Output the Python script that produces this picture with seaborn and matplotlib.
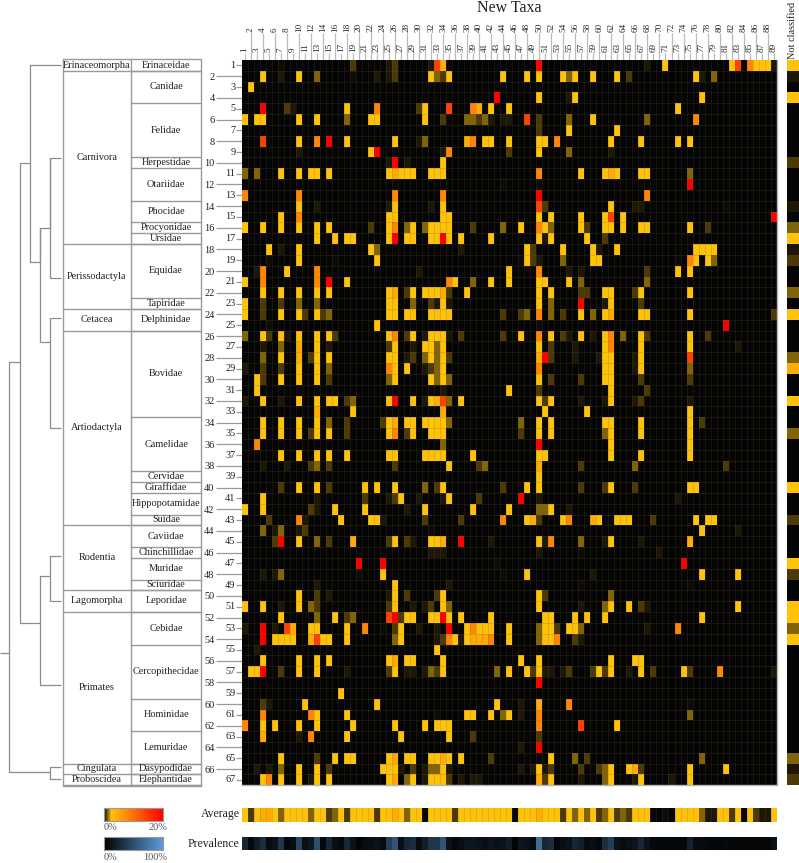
import numpy as np, matplotlib
matplotlib.use("Agg")
import matplotlib.pyplot as plt
import seaborn as sns
from matplotlib.colors import LinearSegmentedColormap as LSC

sns.set_theme(style="white")
plt.rcParams['font.family'] = ['Liberation Serif', 'DejaVu Serif']

# colour level -> percent
LEVELS = {'K':0,'n':0.12,'d':0.3,'m':0.75,'o':1.25,'y':2.5,'e':4.5,'a':8.0,'f':14.0,'r':20.0}

families = ["Erinaceidae","Canidae","Felidae","Herpestidae","Otariidae","Phocidae","Procyonidae","Ursidae","Equidae","Tapiridae","Delphinidae","Bovidae","Camelidae","Cervidae","Giraffidae","Hippopotamidae","Suidae","Caviidae","Chinchillidae","Muridae","Sciuridae","Leporidae","Cebidae","Cercopithecidae","Hominidae","Lemuridae","Dasypodidae","Elephantidae"]
family_sizes = [1,3,5,1,3,2,1,1,5,1,2,8,5,1,1,2,1,2,1,2,1,2,3,5,3,3,1,1]
orders = ["Erinaceomorpha","Carnivora","Perissodactyla","Cetacea","Artiodactyla","Rodentia","Lagomorpha","Primates","Cingulata","Proboscidea"]
order_sizes = [1,16,6,2,18,6,2,14,1,1]

# one string per host row: "<column><level>"
rows = [
"7n 19m 25d 26m 32d 33f 34e 50r 68d 71y 82y 83f 85a 86y 87y 88y 89d",
"4y 7d 10y 13o 19n 23d 25d 26m 32y 33o 34m 35y 44y 48y 50y 54y 55o 56y 59y 63y 65m 76y 77d 79o",
"2y",
"43r 50y 55d 56y 77y",
"4r 8m 9d 18y 23a 30m 31y 35f 39a 40e 42y 45y 73y",
"1y 3y 4y 10y 13y 18o 22y 23y 31y 34m 38o 39o 40m 41o 42d 44d 45d 48f 50m 55o 59y 68o 76a",
"50m 55y 63y",
"4f 10y 13a 15r 18y 26y 30d 31o 38e 39a 41y 42y 45y 50y 51y 53a 62y 67y 73y 75y",
"10d 22y 23r 34d 35a 45m 50y 55o 62d",
"25d 26r 28d 34y",
"1o 3o 7y 10y 12y 13y 15y 25y 26e 27y 28y 29y 32y 33y 34y 50a 57y 61y 62e 63y 67y 68y 75o",
"26n 44n 50n 75r",
"1a 10a 26a 34a 50r 68a",
"10y 13d 25d 26y 32d 34y 50f 51m 62y 66d 67d 81n",
"7y 10a 25y 26y 34y 35y 50y 52y 57y 61y 62f 64y 89r",
"1y 4y 7y 10y 13y 15y 22m 25y 26a 28o 29y 31o 32y 33y 34y 35y 39m 44o 47y 50a 51y 52o 57y 58m 61y 62y 64y 67y 68y 75y 78m",
"13y 16y 18y 19y 25y 26r 28y 29y 32y 33y 34r 35y 37y 42y 50y 51d 52y 58y 61m",
"5y 7d 10y 22y 23o 37d 48y 49m 54y 59y 60d 63y 76y 77y 78y 79y",
"5n 10y 16n 23y 47n 48y 49m 50d 54o 59y 60y 73n 75a 76y 78y 79o",
"3d 4a 8y 13a 30d 45y 50a 55d 57d 68m 73y 75y",
"1y 4a 13a 15r 18y 35a 36y 39o 42y 45y 50y 51y 55y 57o 68o",
"4y 7y 10y 13y 15y 25y 26e 28m 29y 31y 32y 33y 34e 35m 38y 50y 52y 57m 58m 61y 62y 66m 67y 75y",
"1y 4m 7m 10o 13o 25y 26y 29o 32m 33d 34y 35d 50y 52o 57r 61d 62y 67m",
"1y 4m 7y 10y 11m 13y 14m 15o 25y 26y 28y 29y 32y 33y 34y 35y 44m 47m 48o 50a 52o 54m 57y 59o 61y 62e 67y 68y 75y 89m",
"5n 23y 50n 81r",
"1o 4y 5m 7y 8d 10y 13y 15y 16m 25y 26a 28m 29y 31d 32y 33y 34y 35d 37m 44m 47y 50a 51n 52y 54m 55d 57y 59d 61y 62a 64o 67y 68m 75y 78m",
"4d 7o 10e 13y 15d 25m 26y 29d 31y 32y 33o 34y 50y 52m 56d 61y 62a 67y 75y 83d",
"4o 7y 10e 12m 13y 15y 25y 26y 28d 29m 31o 32y 33o 34y 35m 50e 51r 52m 56d 60d 61y 62y 66d 67y 75f",
"1d 4m 7m 10y 13y 15o 25a 26y 28y 31d 32m 33o 34y 50a 61y 62y 66d 67y 75o",
"3y 4m 7y 10y 13y 15m 25o 26y 32y 33o 34y 35o 50y 52m 57m 61y 62y 67m 75m",
"3y 34d 45y 50m 62y 68m",
"1d 4y 7d 10y 13y 15y 16y 18m 19o 25y 26r 29y 31d 32y 33e 34f 35o 37y 50y 51m 52y 57d 61d 62y 66d 67m 75d",
"13e 19y 34e 51y 58y 75y",
"4y 7y 10y 13y 15o 18m 24m 25y 26e 28y 29y 31y 32y 33y 34y 35o 47o 50y 52y 61y 62y 67y 75y 77m",
"4y 7y 10y 12m 13y 15y 18m 25y 26a 28m 29y 32y 33y 34y 47m 50y 52y 61o 62y 67y 75y",
"3a 34o 50r 62y 75y",
"7y 10y 13y 15y 18y 25y 26y 31y 32y 33y 34y 39y 50y 51y 62y 67y 75y",
"4d 8d 12m 13o 15m 26m 35y 40m 41o 50e 57m 66o 81m",
"50y",
"7m 10y 13y 15m 21y 23y 26y 31o 33m 34y 44m 48y 50y 57m 61m 62y 66m 75y 76y",
"4y 13d 21m 25d 26m 27y 30d 34d 35y 40m 47r 50d 73d",
"1y 4y 12m 13d 16y 21y 28d 31y 39y 45y 50o 51o 52y 55d",
"5m 10a 11d 17y 22y 23y 24d 31m 37m 44a 48y 49e 50m 54y 55a 59e 60y 63y 64y 65y 69m 76y 78y 79y",
"4o 6d 7o 10d 11m 32n 77y 83d",
"6m 7r 10y 13o 15m 19e 25m 26y 28m 29d 32y 33y 34e 37r 42d 50y 51d 52a 57o 61d 62y 67d 75e",
"32d 33d 34d 50d 57n 70d",
"20r 24r 43n 74r",
"4d 6d 7o 20n 24y 44n 48y 59d 77y 83y",
"13d 26y 35d 57n 75n",
"10y 13m 15d 25d 26y 28m 33m 34y 50y 51m 62o",
"1y 4y 7d 10y 12o 13m 25m 26y 29d 31d 32m 34y 35o 50y 57d 61o 62y 65y 67m 68d 83y",
"7y 13o 16y 18m 19o 25f 26r 27m 28y 29y 32y 33y 34r 35y 37y 42y 51y 52y 56y 58y 61y 77y",
"1d 4r 6d 8f 9e 12y 13y 18y 21a 24n 26m 27y 30d 33d 35r 38y 39a 40y 41y 42y 45y 50o 51y 52y 53m 55y 56y 57o 68d 73a",
"4r 6y 7y 8y 9y 12e 13f 14y 15y 18y 26o 27y 33d 34m 35a 36y 37d 38y 39e 40e 41e 42a 45y 50o 51y 52y 53a 56m 57d",
"3d 33y",
"4y 10y 13y 15y 25y 26e 28y 29y 34y 47y 50y 62y 66y 67y",
"2y 3y 4r 7m 10y 13y 18d 25m 26y 28d 29d 31d 32o 33m 34y 43o 45y 48y 49m 50y 51d 52d 54d 55m 59m 60y 61m 62y 65d 67y 69m 74y 75m 80a 89d",
"50r",
"17y",
"4m 5d 11y 23y 43y 47d 50e 55a 75n",
"4a 12a 13y 18y 33n 38y 39y 42y 44o 45y 47d 50a 75o",
"1a 4y 6y 10y 13y 19y 26y 31y 33y 34y 35y 50a 57f 63y",
"4e 10d 12a 18y 27y 35y 39m 50m",
"47d 50r",
"7y 13m 16y 18y 19y 25y 26e 28y 29y 32y 33y 34e 35y 37y 42m 52y 56o 58m 77o",
"3d 5d 7o 10y 13y 15m 24y 25y 26y 27d 29m 31d 32o 33o 34y 35d 47d 49d 50y 51d 52m 57m 60m 61o 62y 65y 66e 67m 75y 81y",
"4y 5a 7y 10y 12d 13y 15y 25y 26e 28o 29y 31d 32y 33y 34y 35m 37d 39d 40d 50e 51m 52y 57d 61o 62y 66d 67y 72d 75y",
]
not_classified = "1y 2d 4y 10m 14d 16o 17y 18d 19m 22o 24y 28o 29e 32y 35o 40y 43m 47y 48m 51y 52y 53o 54y 65o 66d 67m"
average = ("y m y e e y o y y y  y o y y m o y m y y  y y m y y e y o y y  K y y y y m y y y y  "
           "y y y y y K y y y e  y y y m y o y o y m  o y m o m y y y K K  n K y y y y o d d y  "
           "y m y K y m d d y").split()
prevalence = [25,6,18,30,8,12,35,6,8,45,10,15,50,6,25,10,6,25,12,3,8,10,12,8,40,55,10,25,30,8,
              20,35,35,55,12,6,10,14,15,12,10,14,10,12,18,3,14,12,8,70,25,30,5,10,12,25,20,8,10,6,
              30,40,12,8,10,14,25,12,6,5,4,5,5,5,22,8,8,6,5,5,6,5,4,4,4,4,4,4,12]
col_labels = [str(i) for i in range(1,90)]
row_labels = [str(i) for i in range(1,68)]

def parse(s, n):
    out = np.zeros(n)
    for tok in s.split():
        out[int(tok[:-1])-1] = LEVELS[tok[-1]]
    return out

matrix = np.vstack([parse(r, 89) for r in rows])
nc = parse(not_classified, 67)[:, None]
avg = np.array([LEVELS[a] for a in average])[None, :]
prev = np.array(prevalence, float)[None, :]

heat = LSC.from_list("heat", [(0,"#050505"),(2.5/20,"#ffc20a"),(1,"#ff0000")])
blue = LSC.from_list("blue", [(0,"#000000"),(1,"#5b9bd8")])

W, H = 799, 863
fig = plt.figure(figsize=(W/100, H/100), dpi=100, facecolor="white")
def px_axes(l, t, r, b, **kw):
    return fig.add_axes([l/W, 1-b/H, (r-l)/W, (b-t)/H], **kw)

GRAY = "#9a9a9a"; TXT = "#222222"
over = px_axes(0, 0, W, H); over.set_xlim(0, W); over.set_ylim(H, 0); over.axis("off")

L, R, T, B = 241.7, 776.7, 60, 785.3
ax = px_axes(L, T, R, B)
sns.heatmap(matrix, ax=ax, cmap=heat, vmin=0, vmax=20, cbar=False)
ax.vlines(np.arange(1, 89), 0, 67, color="#6a5a30", alpha=0.28, lw=0.5)
ax.hlines(np.arange(1, 67), 0, 89, color="#6a5a30", alpha=0.28, lw=0.5)
ax.xaxis.tick_top()
ax.set_xticks(np.arange(0, 89, 2)+.5); ax.set_xticklabels(col_labels[0::2], rotation=90, fontsize=6.6, color=TXT)
ax.set_xticks(np.arange(1, 89, 2)+.5, minor=True); ax.set_xticklabels(col_labels[1::2], rotation=90, fontsize=6.6, color=TXT, minor=True)
ax.tick_params(axis="x", which="major", length=5, width=0.9, color="#bbbbbb", pad=0.5, top=True, bottom=False)
ax.tick_params(axis="x", which="minor", length=19.5, width=0.9, color="#bbbbbb", pad=0.5, top=True, bottom=False)
ax.set_yticks(np.arange(0, 67, 2)+.5); ax.set_yticklabels(row_labels[0::2], rotation=0, fontsize=7.4, color=TXT)
ax.set_yticks(np.arange(1, 67, 2)+.5, minor=True); ax.set_yticklabels(row_labels[1::2], rotation=0, fontsize=7.4, color=TXT, minor=True)
ax.tick_params(axis="y", which="major", length=4, width=0.9, color=GRAY, pad=0.5, left=True)
ax.tick_params(axis="y", which="minor", length=19, width=0.9, color=GRAY, pad=0.5, left=True)
for s in ("right", "bottom"):
    ax.spines[s].set_visible(True); ax.spines[s].set_color("#b5b5b5"); ax.spines[s].set_linewidth(1)

axn = px_axes(787, T, 799, B)
sns.heatmap(nc, ax=axn, cmap=heat, vmin=0, vmax=20, cbar=False, xticklabels=False, yticklabels=False)
axa = px_axes(L, 807.5, R, 822)
sns.heatmap(avg, ax=axa, cmap=heat, vmin=0, vmax=20, cbar=False, xticklabels=False, yticklabels=False)
axa.vlines(np.arange(1, 89), 0, 1, color="#6a5a30", alpha=0.28, lw=0.5)
axp = px_axes(L, 836.5, R, 850)
sns.heatmap(prev, ax=axp, cmap=blue, vmin=0, vmax=100, cbar=False, xticklabels=False, yticklabels=False)

grad = np.linspace(0, 1, 256)[None, :]
for (t_, b_, cm) in [(807.5, 821, heat), (836.5, 850, blue)]:
    g = px_axes(104, t_, 162.7, b_)
    sns.heatmap(grad, ax=g, cmap=cm, vmin=0, vmax=1, cbar=False, xticklabels=False, yticklabels=False)
    for s in g.spines.values():
        s.set_visible(True); s.set_color("#999999"); s.set_linewidth(0.8)

def t(x, y, s, **kw):
    kw.setdefault("ha", "center"); kw.setdefault("va", "center"); kw.setdefault("color", TXT)
    over.text(x, y, s, **kw)

t(509, 8, "New Taxa", fontsize=11.5)
t(792.5, 30, "Not classified", fontsize=7.4, rotation=90)
t(239.5, 814, "Average", fontsize=8.5, ha="right")
t(239.5, 844, "Prevalence", fontsize=8.5, ha="right")
t(111, 827, "0%", fontsize=7.5, color="#555555"); t(158, 827, "20%", fontsize=7.5, color="#555555")
t(111, 857, "0%", fontsize=7.5, color="#555555"); t(155, 857, "100%", fontsize=7.5, color="#555555")

# taxonomy table
ch = (B-T)/67
X0, X1, X2 = 62.5, 131.3, 201
tt, bb = 59, B+0.5
def yr(n): return T + n*ch
over.plot([X0, X2, X2, X0, X0], [tt, tt, bb, bb, tt], color=GRAY, lw=1)
over.plot([X1, X1], [tt, bb], color=GRAY, lw=1)
n = 0
for name, size in zip(families, family_sizes):
    t((X1+X2)/2, yr(n+size/2)-0.3, name, fontsize=7.4)
    n += size
    over.plot([X1, X2], [yr(n), yr(n)], color=GRAY, lw=1)
n = 0
for name, size in zip(orders, order_sizes):
    t((X0+X1)/2, yr(n+size/2)-0.3, name, fontsize=7.4)
    n += size
    over.plot([X0, X2], [yr(n), yr(n)], color=GRAY, lw=1)

# dendrogram
segs = [
 ([61,30,30,40,40,50,50,61],[65,65,262,262,228,228,158,158]),
 ([50,61],[278,278]), ([50,50],[158,278]), ([40,40],[228,342]), ([40,50,50,61],[342,342,318,318]),
 ([50,50,61],[342,428,428]),
 ([30,20,20,40,40,50,50,61],[163,163,623,623,576,576,556,556]), ([50,50,61],[576,601,601]),
 ([40,40,61],[623,685,685]),
 ([20,9,9,50,50,61],[362,362,772,772,767,767]), ([50,50,61],[772,779,779]),
 ([0,9],[653,653]),
]
for xs, ys in segs:
    over.plot(xs, ys, color="#8c8c8c", lw=0.9, solid_capstyle="butt")

fig.savefig("out.png", dpi=100, facecolor="white")
